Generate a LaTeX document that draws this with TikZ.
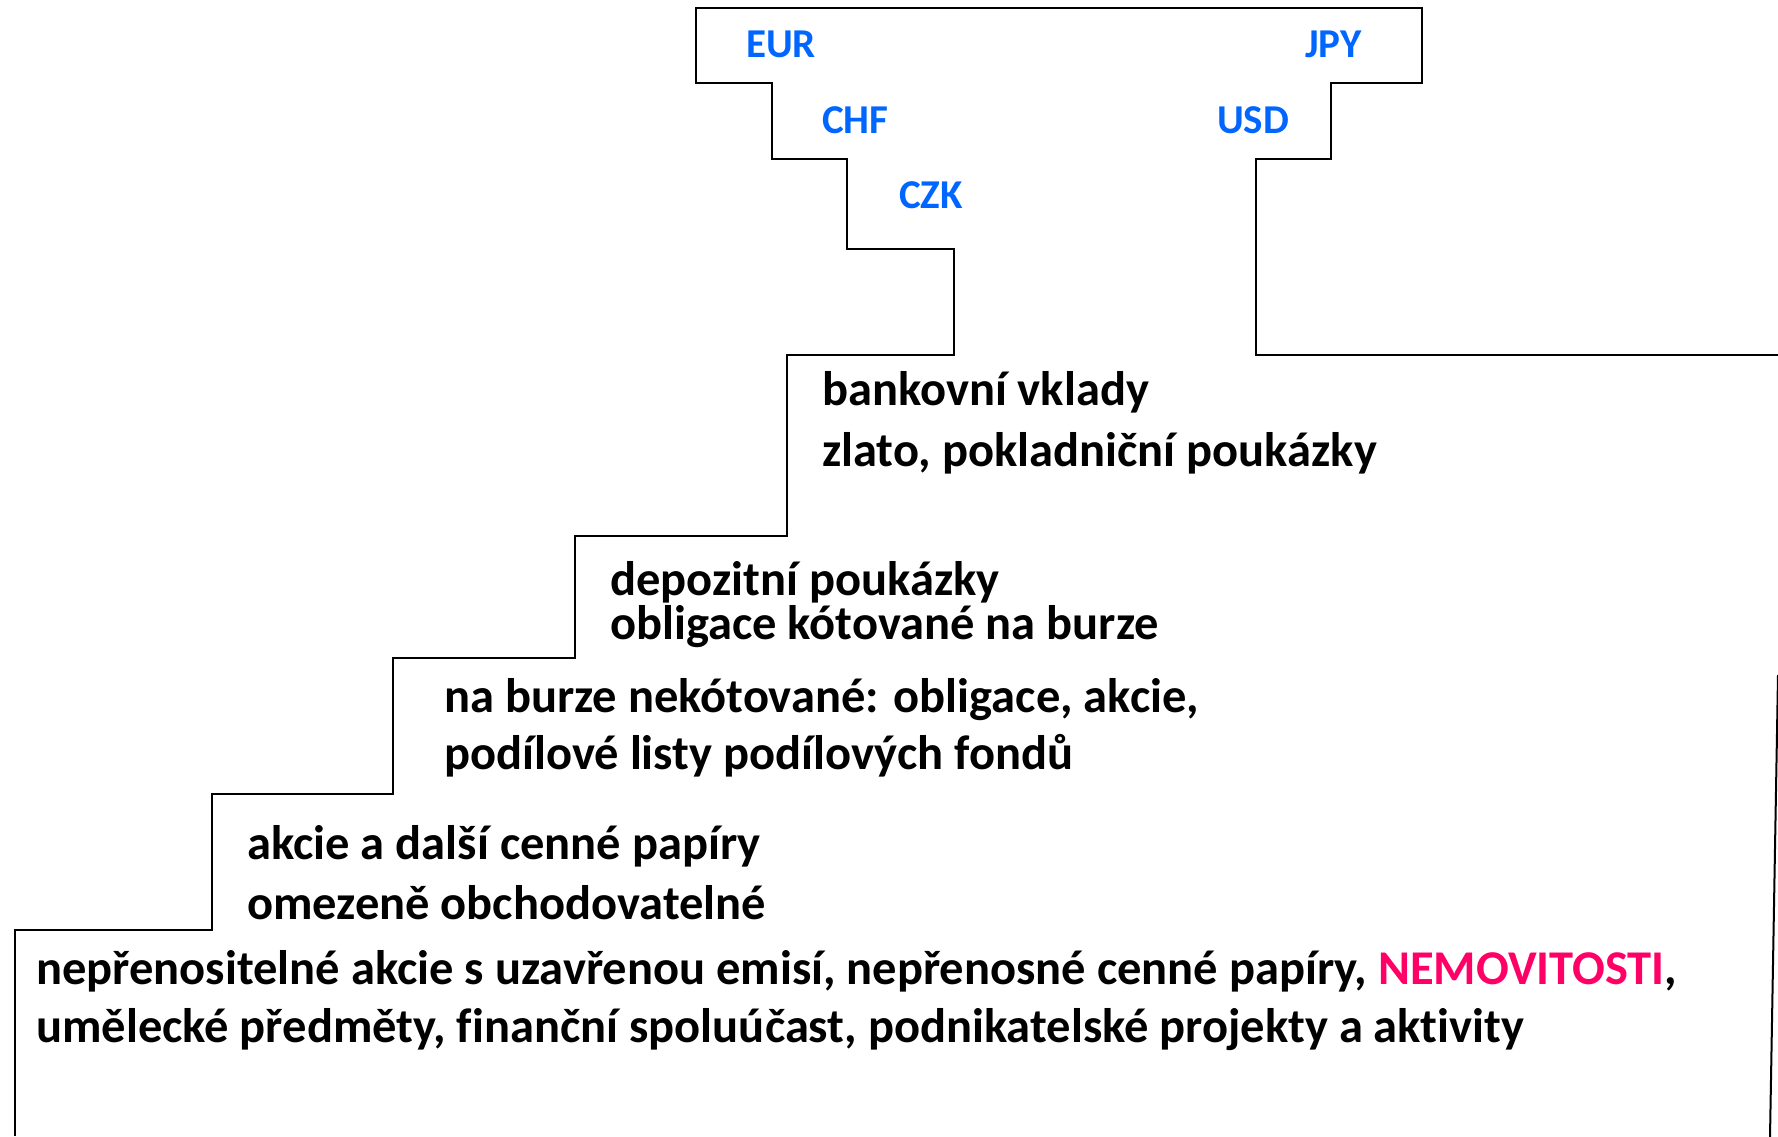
\documentclass[tikz,border=0pt]{standalone}
\usepackage{fontspec}
\setmainfont{Carlito}[Ligatures=NoCommon]
\usepackage{xcolor}
\definecolor{curblue}{RGB}{0,102,255}
\definecolor{estate}{RGB}{255,0,102}
\begin{document}
\begin{tikzpicture}[x=1pt,y=-1pt,
  outline/.style={draw=black,line width=2pt,line join=miter},
  asset/.style={anchor=base west,inner sep=0pt,font=\fontsize{48.5}{58}\selectfont\bfseries},
  currency/.style={anchor=base west,inner sep=0pt,text=curblue,font=\fontsize{41}{49}\selectfont\bfseries}]
\useasboundingbox (0,0) rectangle (1778,1136);

% stepped outline: currencies on top, assets descending by liquidity
\draw[outline] (15,1136) -- (15,930) -- (212,930) -- (212,794) -- (393,794)
  -- (393,658) -- (575,658) -- (575,536) -- (787,536) -- (787,355)
  -- (954,355) -- (954,249) -- (847,249) -- (847,159) -- (772,159)
  -- (772,83) -- (696,83) -- (696,8) -- (1422,8) -- (1422,83)
  -- (1331,83) -- (1331,159) -- (1256,159) -- (1256,355) -- (1780,355);
\draw[outline] (1778,675) -- (1770,1137);

% currencies
\node[currency] (eur) at (746,57) {EUR};
\node[currency] (chf) at (822,133) {CHF};
\node[currency] (czk) at (899,208) {CZK};
\node[currency] (jpy) at (1305,57) {JPY};
\node[currency] (usd) at (1217,133) {USD};

% assets
\node[asset] (a1) at (822,405) {bankovní vklady};
\node[asset] (a2) at (822,466) {zlato, pokladniční poukázky};
\node[asset] (b1) at (610,595) {depozitní poukázky};
\node[asset] (b2) at (610,639) {obligace kótované na burze};
\node[asset] (c1) at (444,712) {na burze nekótované: obligace, akcie,};
\node[asset] (c2) at (444,769) {podílové listy podílových fondů};
\node[asset] (d1) at (247,859) {akcie a další cenné papíry};
\node[asset] (d2) at (247,919) {omezeně obchodovatelné};
\node[asset] (e1) at (36,984) {nepřenositelné akcie s uzavřenou emisí, nepřenosné cenné papíry, \textcolor{estate}{NEMOVITOSTI},};
\node[asset] (e2) at (36,1042) {umělecké předměty, finanční spoluúčast, podnikatelské projekty a aktivity};
\end{tikzpicture}
\end{document}
